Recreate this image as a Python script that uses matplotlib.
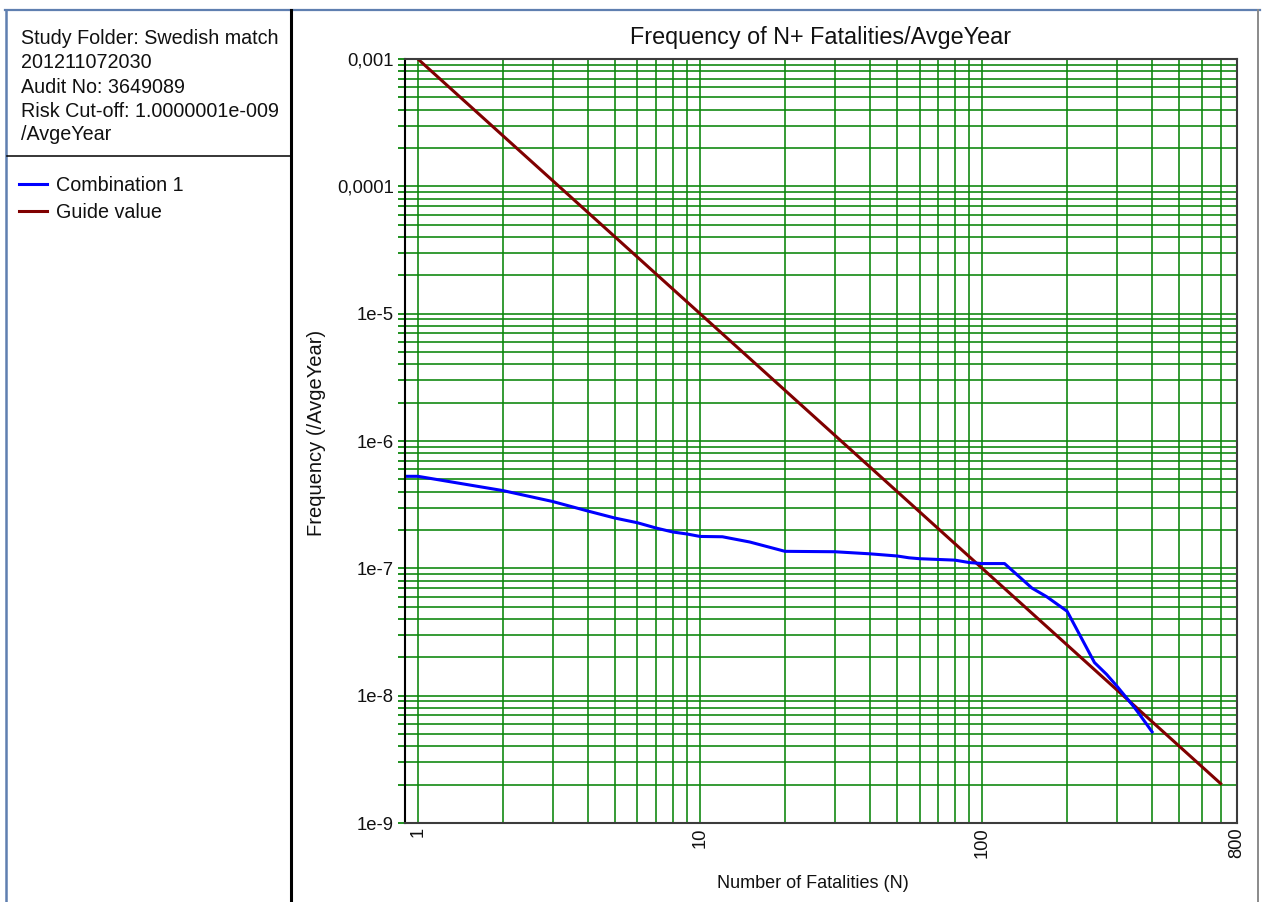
import numpy as np
import matplotlib
matplotlib.use("Agg")
import matplotlib.pyplot as plt
from matplotlib.lines import Line2D
from matplotlib.ticker import LogLocator, NullFormatter

plt.rcParams['font.family'] = ['Liberation Sans', 'DejaVu Sans']

# ---- data ---------------------------------------------------------------
combo_n = [0.9, 1, 2, 3, 4, 5, 6, 7, 8, 9, 10, 12, 15, 20, 30, 40, 50, 55,
           60, 80, 90, 100, 120, 143, 150, 169, 200, 250, 276, 300, 343, 360, 400]
combo_f = [5.28e-7, 5.28e-7, 4.08e-7, 3.35e-7, 2.82e-7, 2.48e-7, 2.28e-7,
           2.07e-7, 1.93e-7, 1.86e-7, 1.78e-7, 1.77e-7, 1.61e-7, 1.36e-7,
           1.35e-7, 1.30e-7, 1.25e-7, 1.21e-7, 1.19e-7, 1.16e-7, 1.11e-7,
           1.09e-7, 1.09e-7, 7.7e-8, 7.0e-8, 6.0e-8, 4.6e-8, 1.82e-8, 1.47e-8,
           1.19e-8, 8.3e-9, 7.2e-9, 5.2e-9]

guide_n = [1, 10, 100, 700]
guide_f = [1e-3, 1e-5, 1e-7, 2.04e-9]

x_tick_vals = [1, 10, 100, 800]
x_tick_labels = ["1", "10", "100", "800"]
y_tick_vals = [1e-9, 1e-8, 1e-7, 1e-6, 1e-5, 1e-4, 1e-3]
y_tick_labels = ["1e-9", "1e-8", "1e-7", "1e-6", "1e-5", "0,0001", "0,001"]

info_lines = ["Study Folder: Swedish match", "201211072030",
              "Audit No: 3649089", "Risk Cut-off: 1.0000001e-009", "/AvgeYear"]
series_names = ["Combination 1", "Guide value"]

title = "Frequency of N+ Fatalities/AvgeYear"
x_label = "Number of Fatalities (N)"
y_label = "Frequency (/AvgeYear)"

# ---- figure -------------------------------------------------------------
W, H = 1262, 902
fig = plt.figure(figsize=(W / 100, H / 100), dpi=100)
fig.patch.set_facecolor("white")

def fx(px):
    return px / W

def fy(py):
    return 1 - py / H

ax_l, ax_r, ax_t, ax_b = 405, 1237, 59, 823
ax = fig.add_axes([fx(ax_l), fy(ax_b), fx(ax_r - ax_l), (ax_b - ax_t) / H])

GRID = "#0d870d"
BLUE = "#0000ff"
MAROON = "#800000"

line_combo, = ax.plot(combo_n, combo_f, color=BLUE, lw=2.2, zorder=4,
                      solid_joinstyle="round")
line_guide, = ax.plot(guide_n, guide_f, color=MAROON, lw=2.2, zorder=3)

ax.set_xscale("log")
ax.set_yscale("log")
ax.set_xlim(0.9, 800)
ax.set_ylim(1e-9, 1e-3)

ax.set_xticks(x_tick_vals, x_tick_labels)
ax.xaxis.set_minor_locator(LogLocator(base=10, subs=np.arange(2, 10)))
ax.xaxis.set_minor_formatter(NullFormatter())
ax.set_yticks(y_tick_vals, y_tick_labels)
ax.yaxis.set_minor_locator(LogLocator(base=10, subs=np.arange(2, 10), numticks=20))
ax.yaxis.set_minor_formatter(NullFormatter())

ax.tick_params(axis="x", which="both", length=0, pad=3, labelsize=13.2,
               labelrotation=90, labelcolor="#111111")
for lbl in ax.get_xticklabels():
    lbl.set_verticalalignment("top")
ax.tick_params(axis="y", which="both", length=5, width=1.3, color=GRID,
               direction="out", pad=3, labelsize=13.3, labelcolor="#111111")

ax.grid(True, which="both", axis="both", color=GRID, lw=1.3, alpha=0.9)
ax.set_axisbelow(True)

for side, sp in ax.spines.items():
    sp.set_linewidth(1.5)
    sp.set_color("#3c3c3c")
    sp.set_zorder(5)
ax.spines["left"].set_color("black")

ax.set_title(title, fontsize=16.8, pad=11, color="#111111")
ax.set_xlabel(x_label, fontsize=13, color="#111111", va="center")
ax.xaxis.set_label_coords((812.5 - ax_l) / (ax_r - ax_l), (ax_b - 884) / (ax_b - ax_t))
ax.set_ylabel(y_label, fontsize=14.5, color="#111111", va="center")
ax.yaxis.set_label_coords((316 - ax_l) / (ax_r - ax_l), (ax_b - 433) / (ax_b - ax_t))

# ---- side panel ---------------------------------------------------------
FRAME = "#5f7fb0"
fig.add_artist(Line2D([fx(5), fx(1260)], [fy(9.5), fy(9.5)], color=FRAME, lw=1.6))
fig.add_artist(Line2D([fx(6), fx(6)], [fy(9.5), fy(902)], color=FRAME, lw=1.8))
fig.add_artist(Line2D([fx(1258), fx(1258)], [fy(9.5), fy(902)], color="#8a8a8a", lw=1.4))
fig.add_artist(Line2D([fx(291), fx(291)], [fy(9.5), fy(902)], color="black", lw=2.2))
fig.add_artist(Line2D([fx(7), fx(291)], [fy(155.5), fy(155.5)], color="black", lw=1.1))

baselines = [44, 68, 93, 117, 140]
for txt, b in zip(info_lines, baselines):
    fig.text(fx(21), fy(b), txt, fontsize=14.2, va="baseline", ha="left",
             color="#111111")

fig.legend([line_combo, line_guide], series_names, loc="upper left",
           bbox_to_anchor=(fx(19), fy(176)), frameon=False, fontsize=14.2,
           handlelength=1.4, handletextpad=0.5, labelspacing=0.42,
           borderpad=0, borderaxespad=0, labelcolor="#111111")

fig.savefig("out.png", dpi=100, facecolor="white")
